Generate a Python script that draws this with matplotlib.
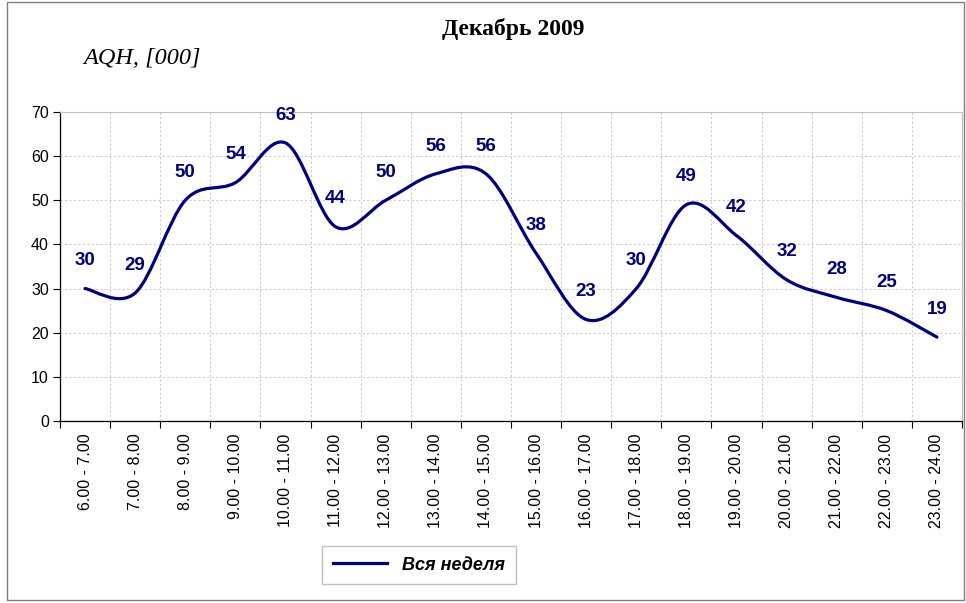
import numpy as np
import matplotlib
matplotlib.use("Agg")
from matplotlib import pyplot as plt
from matplotlib.path import Path
from matplotlib.patches import PathPatch, Rectangle
from matplotlib.lines import Line2D

hours = ["6.00 - 7.00", "7.00 - 8.00", "8.00 - 9.00", "9.00 - 10.00",
         "10.00 - 11.00", "11.00 - 12.00", "12.00 - 13.00", "13.00 - 14.00",
         "14.00 - 15.00", "15.00 - 16.00", "16.00 - 17.00", "17.00 - 18.00",
         "18.00 - 19.00", "19.00 - 20.00", "20.00 - 21.00", "21.00 - 22.00",
         "22.00 - 23.00", "23.00 - 24.00"]
aqh = [30, 29, 50, 54, 63, 44, 50, 56, 56, 38, 23, 30, 49, 42, 32, 28, 25, 19]

navy = "#000080"
plt.rcParams["font.family"] = ["Liberation Sans", "DejaVu Sans"]

fig = plt.figure(figsize=(9.66, 6.03), dpi=100)
fig.patches.append(Rectangle((7 / 966, 3 / 603), 957 / 966, 598 / 603,
                             transform=fig.transFigure, fill=False,
                             edgecolor="#808080", lw=1))
ax = fig.add_axes([60 / 966, (603 - 421) / 603, 902 / 966, 309 / 603])

# smoothed line, like Excel: bezier segments through each point
x = np.arange(len(aqh), dtype=float)
y = np.array(aqh, dtype=float)
xp = np.concatenate([[x[0]], x, [x[-1]]])
yp = np.concatenate([[y[0]], y, [y[-1]]])
verts = [(x[0], y[0])]
codes = [Path.MOVETO]
for i in range(len(x) - 1):
    c1 = (x[i] + (xp[i + 2] - xp[i]) / 6, y[i] + (yp[i + 2] - yp[i]) / 6)
    c2 = (x[i + 1] - (xp[i + 3] - xp[i + 1]) / 6, y[i + 1] - (yp[i + 3] - yp[i + 1]) / 6)
    verts += [c1, c2, (x[i + 1], y[i + 1])]
    codes += [Path.CURVE4] * 3
ax.add_patch(PathPatch(Path(verts, codes), fill=False, edgecolor=navy,
                       lw=2.3, capstyle="round", joinstyle="round", zorder=3))

for xi, v in zip(x, aqh):
    ax.annotate(str(v), (xi, v), xytext=(0, 20), textcoords="offset points",
                ha="center", va="center", fontsize=13.5, fontweight="bold",
                color=navy)

ax.set_xlim(-0.5, len(aqh) - 0.5)
ax.set_ylim(0, 70)
ax.set_yticks(range(0, 71, 10))
ax.set_xticks(x)
ax.set_xticklabels(hours, rotation=90, fontsize=11.5)
ax.set_xticks(np.arange(-0.5, len(aqh)), minor=True)
ax.tick_params(axis="x", which="major", length=0, pad=9)
ax.tick_params(axis="x", which="minor", length=5, direction="out", width=0.8)
ax.tick_params(axis="y", length=5, direction="out", width=0.8, labelsize=11.5, pad=3)
ax.grid(True, axis="y", which="major", color="#cccccc", ls=(0, (2, 2)), lw=0.8)
ax.grid(True, axis="x", which="minor", color="#cccccc", ls=(0, (2, 2)), lw=0.8)
ax.set_axisbelow(True)
for s in ["top", "right"]:
    ax.spines[s].set_color("#c0c0c0")
for s in ["left", "bottom"]:
    ax.spines[s].set_color("black")
    ax.spines[s].set_linewidth(0.9)

fig.text(513 / 966, (603 - 29) / 603, "Декабрь 2009", ha="center", va="center",
         family="Liberation Serif", fontweight="bold", fontsize=17)
fig.text(83 / 966, (603 - 58) / 603, "AQH, [000]", ha="left", va="center",
         family="Liberation Serif", style="italic", fontsize=17.5)

handle = Line2D([], [], color=navy, lw=2.3)
leg = fig.legend([handle], ["Вся неделя"], loc="center",
                 bbox_to_anchor=(419 / 966, (603 - 565) / 603),
                 fancybox=False, edgecolor="#c0c0c0", framealpha=1,
                 handlelength=3.0, borderpad=0.6,
                 prop={"weight": "bold", "style": "italic", "size": 13})

fig.savefig("out.png", dpi=100)
